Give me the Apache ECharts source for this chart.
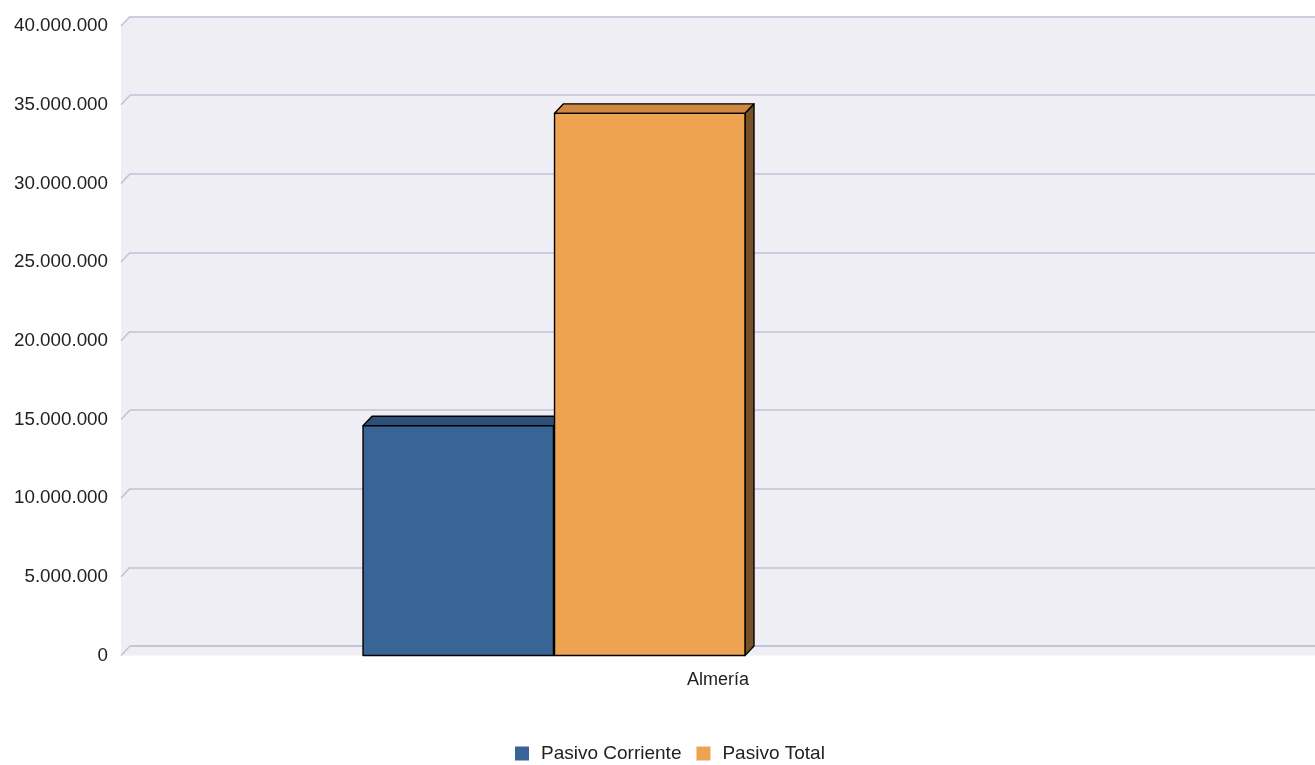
<!DOCTYPE html>
<html>
<head>
<meta charset="utf-8">
<script src="https://cdn.jsdelivr.net/npm/echarts@6/dist/echarts.min.js"></script>
<style>
html,body{margin:0;padding:0;background:#fff;}
#chart{width:1315px;height:765px;}
</style>
</head>
<body>
<div id="chart"></div>
<script>
// ---- data ----
var categories = ['Almería'];
var seriesNames = ['Pasivo Corriente', 'Pasivo Total'];
var pasivoCorriente = [14600000];
var pasivoTotal = [34450000];
var yTicks = [0, 5000000, 10000000, 15000000, 20000000, 25000000, 30000000, 35000000, 40000000];

// ---- style ----
var DX = 9, DY = 9.5;
var FRONT = {left: 121, top: 26, bottom: 765 - 655.5};
var BACK = {left: 121 + DX, top: 26 - DY, bottom: 765 - 655.5 + DY};
var BG = '#EFEEF4';
var GRID_LINE = '#C2C2D8';
var TEXT = '#222222';
var barStyles = [
  {front: '#396496', top: '#2D5079', side: '#1F3A5C', off: -0.2973, w: 0.1595},
  {front: '#EEA353', top: '#CE8A43', side: '#785028', off: -0.1369, w: 0.1595}
];

function fmt(v) { return String(v).replace(/\B(?=(\d{3})+(?!\d))/g, '.'); }

var chart = echarts.init(document.getElementById('chart'));

function barRender(si) {
  return function (params, api) {
    var st = barStyles[si];
    var cat = api.value(0), v = api.value(1);
    var top = api.coord([cat, v]);
    var base = api.coord([cat, 0]);
    var band = api.size([1, 0])[0];
    var x0 = top[0] + band * st.off;
    var w = band * st.w;
    var ty = top[1], by = base[1];
    var stroke = {stroke: '#000', lineWidth: 1.4, lineJoin: 'round'};
    return {
      type: 'group',
      children: [
        {type: 'polygon', shape: {points: [[x0 + w, ty], [x0 + w + DX, ty - DY], [x0 + w + DX, by - DY], [x0 + w, by]]},
          style: Object.assign({fill: st.side}, stroke)},
        {type: 'polygon', shape: {points: [[x0, ty], [x0 + DX, ty - DY], [x0 + w + DX, ty - DY], [x0 + w, ty]]},
          style: Object.assign({fill: st.top}, stroke)},
        {type: 'rect', shape: {x: x0, y: ty, width: w, height: by - ty},
          style: Object.assign({fill: st.front}, stroke)}
      ]
    };
  };
}

function wallRender(params, api) {
  var v = api.value(0);
  var p = api.coord([0, v]);
  var cs = params.coordSys;
  var xl = cs.x, xr = cs.x + cs.width;
  var children = [];
  if (params.dataIndex === 0) {
    var yTop = cs.y, yBot = cs.y + cs.height;
    children.push({type: 'polygon', shape: {points: [[xl, yTop], [xl + DX, yTop - DY], [xl + DX, yBot - DY + 1], [xl, yBot]]},
      style: {fill: BG}});
    children.push({type: 'polygon', shape: {points: [[xl, yBot], [xl + DX, yBot - DY + 1], [xr + DX, yBot - DY + 1], [xr + DX, yBot]]},
      style: {fill: BG}});
    children.push({type: 'line', shape: {x1: xl + DX, y1: yBot - DY, x2: xr + DX, y2: yBot - DY},
      style: {stroke: GRID_LINE, lineWidth: 1.5}});
  }
  children.push({type: 'line', shape: {x1: xl, y1: p[1], x2: xl + DX, y2: p[1] - DY},
    style: {stroke: GRID_LINE, lineWidth: 1.5}});
  return {type: 'group', children: children};
}

var option = {
  animation: false,
  textStyle: {fontFamily: 'Liberation Sans, Arial, sans-serif'},
  legend: {
    data: seriesNames,
    left: 510,
    top: 739,
    icon: 'rect',
    itemWidth: 14,
    itemHeight: 14,
    itemGap: 15,
    textStyle: {fontSize: 19, color: TEXT, padding: [0, 0, 0, 7], fontFamily: 'Liberation Sans, Arial, sans-serif'}
  },
  grid: [
    {left: FRONT.left, right: 0, top: FRONT.top, bottom: FRONT.bottom, containLabel: false},
    {left: BACK.left, right: 0, top: BACK.top, bottom: BACK.bottom, containLabel: false,
      show: true, backgroundColor: BG, borderWidth: 0}
  ],
  xAxis: [
    {type: 'category', gridIndex: 0, data: categories,
      axisLine: {show: false}, axisTick: {show: false},
      axisLabel: {color: TEXT, fontSize: 18, margin: 16}},
    {type: 'category', gridIndex: 1, data: categories, show: false}
  ],
  yAxis: [
    {type: 'value', gridIndex: 0, min: yTicks[0], max: yTicks[yTicks.length - 1], interval: yTicks[1] - yTicks[0],
      axisLine: {show: false}, axisTick: {show: false}, splitLine: {show: false},
      axisLabel: {color: TEXT, fontSize: 18.8, margin: 13, formatter: fmt}},
    {type: 'value', gridIndex: 1, min: yTicks[0], max: yTicks[yTicks.length - 1], interval: yTicks[1] - yTicks[0],
      axisLine: {show: false}, axisTick: {show: false}, axisLabel: {show: false},
      splitLine: {show: true, lineStyle: {color: GRID_LINE, width: 1.5}}}
  ],
  series: [
    {type: 'custom', name: '_walls', xAxisIndex: 0, yAxisIndex: 0, z: 1, silent: true,
      renderItem: wallRender, data: yTicks.map(function (t) { return [t]; }),
      encode: {y: 0}},
    {type: 'custom', name: seriesNames[0], xAxisIndex: 0, yAxisIndex: 0, z: 3,
      itemStyle: {color: barStyles[0].front},
      renderItem: barRender(0),
      data: pasivoCorriente.map(function (v, i) { return [i, v]; })},
    {type: 'custom', name: seriesNames[1], xAxisIndex: 0, yAxisIndex: 0, z: 3,
      itemStyle: {color: barStyles[1].front},
      renderItem: barRender(1),
      data: pasivoTotal.map(function (v, i) { return [i, v]; })}
  ]
};
chart.setOption(option);
</script>
</body>
</html>
